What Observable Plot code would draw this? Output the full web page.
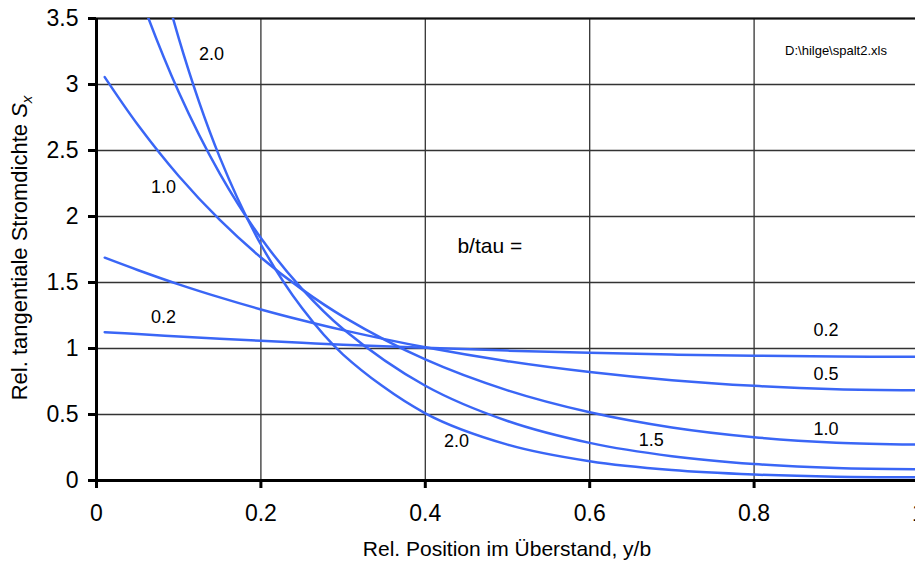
<!DOCTYPE html>
<html>
<head>
<meta charset="utf-8">
<script src="https://cdn.jsdelivr.net/npm/d3@7"></script>
<script src="https://cdn.jsdelivr.net/npm/@observablehq/plot@0.6"></script>
<style>
html, body { margin: 0; padding: 0; background: #fff; overflow: hidden; }
#chart svg { display: block; }
</style>
</head>
<body>
<div id="chart"></div>
<script>
// Relative position in the overhang, y/b
const xs = [0.01, 0.05, 0.1, 0.15, 0.2, 0.25, 0.3, 0.4, 0.5, 0.6, 0.7, 0.8, 0.9, 1.0];

// Relative tangential current density S_x for each b/tau
const s02 = [1.124, 1.109, 1.091, 1.074, 1.058, 1.043, 1.029, 1.005, 0.984, 0.967, 0.954, 0.945, 0.939, 0.937];
const s05 = [1.688, 1.595, 1.486, 1.387, 1.296, 1.214, 1.139, 1.009, 0.904, 0.822, 0.760, 0.717, 0.691, 0.683];
const s10 = [3.056, 2.697, 2.307, 1.974, 1.690, 1.448, 1.242, 0.917, 0.683, 0.517, 0.402, 0.328, 0.286, 0.272];
const s15 = [4.496, 3.724, 2.943, 2.325, 1.837, 1.452, 1.148, 0.718, 0.451, 0.285, 0.184, 0.125, 0.094, 0.085];
const s20 = [5.901, 4.589, 3.352, 2.448, 1.788, 1.306, 0.954, 0.509, 0.272, 0.146, 0.079, 0.045, 0.028, 0.024];

const seriesNames = ["0.2", "0.5", "1.0", "1.5", "2.0"];
const seriesValues = [s02, s05, s10, s15, s20];

const xTicks = [0, 0.2, 0.4, 0.6, 0.8, 1];
const yTicks = [0, 0.5, 1, 1.5, 2, 2.5, 3, 3.5];
const xTickLabels = ["0", "0.2", "0.4", "0.6", "0.8", "1"];
const yTickLabels = ["0", "0.5", "1", "1.5", "2", "2.5", "3", "3.5"];

const curveLabelText = ["2.0", "1.0", "0.2", "0.2", "0.5", "1.0", "1.5", "2.0"];
const curveLabelX    = [0.140, 0.0815, 0.0815, 0.8875, 0.8875, 0.8875, 0.675, 0.438];
const curveLabelY    = [3.233, 2.225, 1.240, 1.142, 0.806, 0.389, 0.303, 0.301];

const noteText = "b/tau =";
const fileText = "D:\\hilge\\spalt2.xls";
const xTitle = "Rel. Position im Überstand, y/b";
const yTitle = "Rel. tangentiale Stromdichte ";

const data = seriesNames.flatMap((name, i) =>
  xs.map((x, j) => ({series: name, x, y: seriesValues[i][j]})));
const curveLabels = curveLabelText.map((t, i) => ({text: t, x: curveLabelX[i], y: curveLabelY[i]}));

const FONT = "'Liberation Sans', Arial, Helvetica, sans-serif";

const svg = Plot.plot({
  width: 915,
  height: 565,
  marginLeft: 96,
  marginRight: 0,
  marginTop: 18,
  marginBottom: 85,
  style: {fontFamily: FONT, background: "white", color: "black"},
  x: {domain: [0, 1], range: [96, 918]},
  y: {domain: [0, 3.5], range: [480, 18]},
  marks: [
    Plot.gridX(xTicks, {stroke: "#333", strokeOpacity: 1, strokeWidth: 1.3}),
    Plot.gridY(yTicks, {stroke: "#333", strokeOpacity: 1, strokeWidth: 1.3}),
    Plot.ruleY([3.5], {stroke: "#111", strokeWidth: 2}),
    Plot.line(data, {x: "x", y: "y", z: "series", stroke: "#3a66f6", strokeWidth: 2.5, curve: "catmull-rom", clip: true}),
    Plot.ruleX([0], {stroke: "#000", strokeWidth: 3}),
    Plot.ruleY([0], {stroke: "#000", strokeWidth: 3}),
    Plot.axisX({ticks: xTicks, tickFormat: (d, i) => xTickLabels[xTicks.indexOf(d)], tickSize: 8, tickPadding: 16, strokeWidth: 3, stroke: "#000", fontSize: 23, label: null}),
    Plot.axisY({ticks: yTicks, tickFormat: (d, i) => yTickLabels[yTicks.indexOf(d)], tickSize: 8, tickPadding: 10, strokeWidth: 3, stroke: "#000", fontSize: 23, label: null}),
    Plot.text(curveLabels, {x: "x", y: "y", text: "text", fontSize: 18, fill: "black"}),
    Plot.text([noteText], {x: 0.4785, y: 1.778, text: d => d, fontSize: 21, fill: "black"}),
    Plot.text([fileText], {x: 0.8996, y: 3.255, text: d => d, fontSize: 13, fill: "black"})
  ]
});

const s = d3.select(svg);
s.append("text")
  .attr("x", 507).attr("y", 556)
  .attr("text-anchor", "middle")
  .attr("font-family", FONT).attr("font-size", 21).attr("fill", "black")
  .text(xTitle);

const yt = s.append("text")
  .attr("transform", "translate(27,248) rotate(-90)")
  .attr("text-anchor", "middle")
  .attr("font-family", FONT).attr("font-size", 22).attr("fill", "black");
yt.append("tspan").text(yTitle);
yt.append("tspan").attr("font-style", "italic").text("S");
yt.append("tspan").attr("font-style", "italic").attr("font-size", 15).attr("dy", 5).text("x");

document.getElementById("chart").appendChild(svg);
</script>
</body>
</html>
